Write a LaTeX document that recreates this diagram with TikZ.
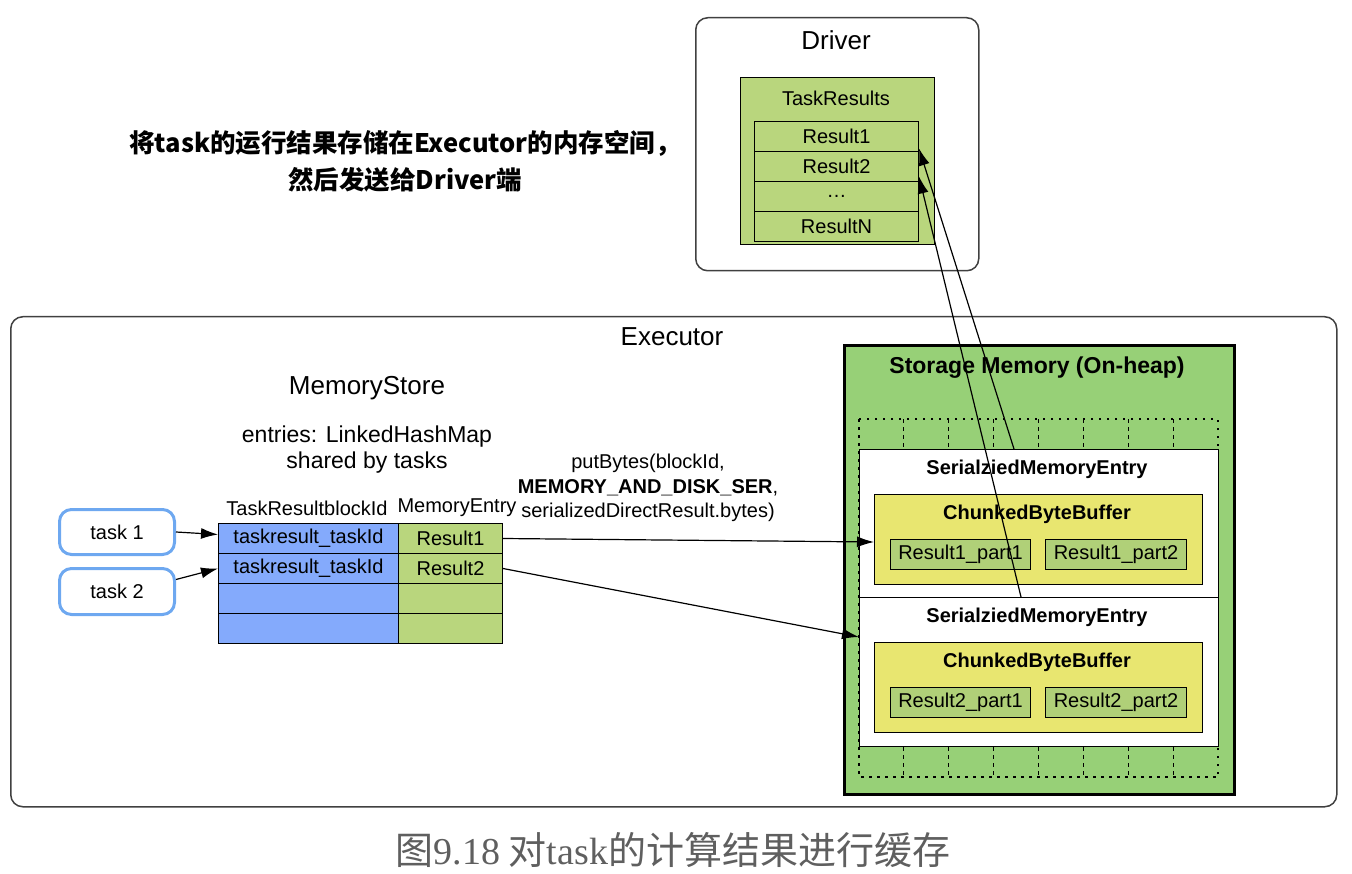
\documentclass[tikz,border=0pt]{standalone}
\usepackage{fontspec}
\setmainfont{Liberation Sans}
\newfontfamily\cjk{Noto Sans CJK SC}
\newfontfamily\capserif{Liberation Serif}
\usetikzlibrary{arrows.meta}
\usetikzlibrary{positioning}

\definecolor{resgreen}{RGB}{185,214,125}
\definecolor{partgreen}{RGB}{176,208,120}
\definecolor{keyblue}{RGB}{132,170,252}
\definecolor{storegreen}{RGB}{151,208,119}
\definecolor{bufyellow}{RGB}{232,230,112}
\definecolor{taskblue}{RGB}{110,168,240}
\definecolor{capgray}{RGB}{95,95,95}

\begin{document}
\begin{tikzpicture}[x=1pt, y=-1pt,
    box/.style={draw, line width=1pt, inner sep=0pt, anchor=north west},
    panel/.style={draw=black!75, line width=1.5pt, rounded corners=12pt, inner sep=0pt, anchor=north west},
    task/.style={draw=taskblue, line width=3pt, rounded corners=12pt, inner sep=0pt, anchor=north west,
        minimum width=115pt, minimum height=45pt, txt},
    txt/.style={font=\fontsize{20}{24}\selectfont},
    big/.style={font=\fontsize{26}{30}\selectfont},
    bold/.style={font=\bfseries\fontsize{20}{24}\selectfont},
    arr/.style={-{Latex[length=17pt,width=11pt]}, line width=1.2pt},
    dotgrid/.style={line width=1.6pt, dash pattern=on 2.5pt off 5.5pt},
    dashgrid/.style={line width=1.2pt, dash pattern=on 4pt off 4pt}]
  \useasboundingbox (0,0) rectangle (1352,874);

  % driver
  \node[panel, minimum width=283pt, minimum height=253pt] (driver) at (695,17) {};
  \node[big] (drvlbl) at (836,40) {Driver};
  \node[box, fill=resgreen, minimum width=194pt, minimum height=167pt] (results) at (740,77) {};
  \node[txt] (reslbl) at (836,98) {TaskResults};
  \foreach \i/\lbl in {1/Result1, 2/Result2, 3/\ldots, 4/ResultN}
    \node[box, txt, fill=resgreen, minimum width=164pt, minimum height=30pt] (r\i) at (754,91+30*\i) {\lbl};

  \node[font=\cjk\bfseries\fontsize{25.5}{37}\selectfont, align=center] (note) at (405,161)
    {将task的运行结果存储在Executor的内存空间，\\然后发送给Driver端};

  % executor
  \node[panel, minimum width=1326pt, minimum height=490pt] (executor) at (10,316) {};
  \node[big] (exelbl) at (672,337) {Executor};
  \node[big] (store) at (367,388) {MemoryStore};
  \node[font=\fontsize{23}{26}\selectfont, align=center] (entries) at (367,450)
    {entries: LinkedHashMap\\shared by tasks};
  \node[txt] (keyhead) at (307,508) {TaskResultblockId};
  \node[txt] (valhead) at (457,508) {MemoryEntry};
  \foreach \i/\k/\v in {1/taskresult\_taskId/Result1, 2/taskresult\_taskId/Result2, 3/{}/{}, 4/{}/{}} {
    \node[box, txt, fill=keyblue, minimum width=180pt, minimum height=30pt] (k\i) at (218,493+30*\i) {\k};
    \node[box, txt, fill=resgreen, minimum width=104pt, minimum height=30pt] (v\i) at (398,493+30*\i) {\v};
  }
  \node[task] (t1) at (58,508) {task 1};
  \node[task, minimum height=46pt] (t2) at (58,567) {task 2};
  \draw[arr] (t1.east) -- ([yshift=4pt]k1.west);
  \draw[arr] ([yshift=12pt]t2.east) -- (k2.west);

  \node[font=\fontsize{20}{24.5}\selectfont, align=center] (put) at (648,488)
    {putBytes(blockId,\\\textbf{MEMORY\_AND\_DISK\_SER},\\serializedDirectResult.bytes)};

  % storage memory
  \node[box, line width=3pt, fill=storegreen, minimum width=390pt, minimum height=449pt] (storage) at (843,344) {};
  \node[font=\bfseries\fontsize{23}{27}\selectfont] (stlbl) at (1037,368) {Storage Memory (On-heap)};
  \draw[dotgrid] (859,419) rectangle (1218,777);
  \foreach \i in {1,...,7} {
    \draw[dashgrid] (859+44.875*\i,419) -- (859+44.875*\i,449);
    \draw[dashgrid] (859+44.875*\i,747) -- (859+44.875*\i,777);
  }
  \foreach \i/\y in {1/449, 2/597} {
    \node[box, fill=white, minimum width=359pt, minimum height=149pt] (e\i) at (859,\y) {};
    \node[bold] (elbl\i) at (1037,\y+20) {SerialziedMemoryEntry};
    \node[box, fill=bufyellow, minimum width=328pt, minimum height=90pt] (c\i) at (874,\y+44.5) {};
    \node[bold] (clbl\i) at (1037,\y+65.5) {ChunkedByteBuffer};
    \node[box, txt, fill=partgreen, minimum width=140pt, minimum height=30pt] (p\i-1) at (890,\y+89.5) {Result\i\_part1};
    \node[box, txt, fill=partgreen, minimum width=141pt, minimum height=30pt] (p\i-2) at (1045,\y+89.5) {Result\i\_part2};
  }

  \draw[arr] (v1.east) -- ([yshift=-3pt]c1.west);
  \draw[arr] (v2.east) -- ([yshift=35pt]e2.west);
  \draw[arr] ([xshift=-25pt]e1.north) -- ([yshift=-12pt]r1.east);
  \draw[arr] ([xshift=-18pt]e2.north) -- ([yshift=-10pt]r2.east);

  \node[font=\cjk\fontsize{38}{42}\selectfont, text=capgray] (caption) at (673,850)
    {图{\capserif 9.18} 对{\capserif task}的计算结果进行缓存};
\end{tikzpicture}
\end{document}
